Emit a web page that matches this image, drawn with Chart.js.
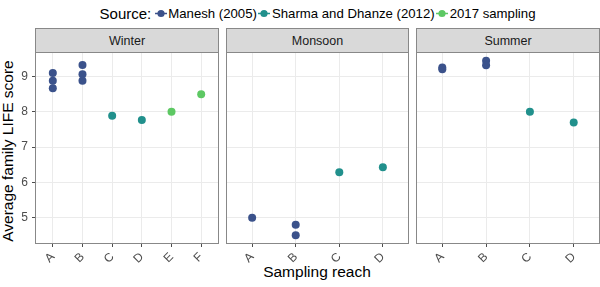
<!DOCTYPE html>
<html><head><meta charset="utf-8">
<script src="https://cdn.jsdelivr.net/npm/chart.js@4/dist/chart.umd.min.js"></script>
<style>
body{margin:0;width:600px;height:287px;background:#fff;font-family:"Liberation Sans",Arial,sans-serif;position:relative;overflow:hidden}
.strip{position:absolute;top:28px;height:25px;box-sizing:border-box;background:#D9D9D9;border:1px solid #888;font-size:12.5px;color:#1A1A1A;display:flex;align-items:center;justify-content:center}
canvas{position:absolute;top:52px}
.ytitle{position:absolute;left:8px;top:151px;transform:translate(-50%,-50%) rotate(-90deg);font-size:15.5px;white-space:nowrap;color:#000}
.xtitle{position:absolute;left:317px;top:272px;transform:translate(-50%,-50%);font-size:15.5px;white-space:nowrap;color:#000}
#legend{position:absolute;left:318px;top:13px;transform:translate(-50%,-50%);display:flex;align-items:center;white-space:nowrap}
#legend .ttl{font-size:15px;margin-right:3px}
#legend .item{display:flex;align-items:center;font-size:13.2px;margin-right:1px}
#legend svg{margin-right:1px}
</style></head>
<body>
<div id="legend"></div>
<div class="ytitle">Average family LIFE score</div>
<div class="xtitle">Sampling reach</div>
<script>
// ---- data ----
const seasons = ['Winter', 'Monsoon', 'Summer'];
const reachWinter = ['A', 'B', 'C', 'D', 'E', 'F'];
const reachMonsoon = ['A', 'B', 'C', 'D'];
const reachSummer = ['A', 'B', 'C', 'D'];
const sourceNames = ['Manesh (2005)', 'Sharma and Dhanze (2012)', '2017 sampling'];
const yTicks = [5, 6, 7, 8, 9];

// Winter
const maneshWinterReach = ['A', 'A', 'A', 'B', 'B', 'B'];
const maneshWinterScore = [9.10, 8.88, 8.67, 9.33, 9.07, 8.88];
const sharmaWinterReach = ['C', 'D'];
const sharmaWinterScore = [7.89, 7.77];
const s2017WinterReach = ['E', 'F'];
const s2017WinterScore = [8.00, 8.50];
// Monsoon
const maneshMonsoonReach = ['A', 'B', 'B'];
const maneshMonsoonScore = [5.00, 4.80, 4.50];
const sharmaMonsoonReach = ['C', 'D'];
const sharmaMonsoonScore = [6.29, 6.43];
// Summer
const maneshSummerReach = ['A', 'A', 'B', 'B'];
const maneshSummerScore = [9.26, 9.21, 9.45, 9.32];
const sharmaSummerReach = ['C', 'D'];
const sharmaSummerScore = [8.00, 7.70];

// ---- styles ----
const sourceColors = ['#3B528B', '#21908C', '#5DC863'];

const panels = [
  {reach: reachWinter, series: [[maneshWinterReach, maneshWinterScore], [sharmaWinterReach, sharmaWinterScore], [s2017WinterReach, s2017WinterScore]]},
  {reach: reachMonsoon, series: [[maneshMonsoonReach, maneshMonsoonScore], [sharmaMonsoonReach, sharmaMonsoonScore], [[], []]]},
  {reach: reachSummer, series: [[maneshSummerReach, maneshSummerScore], [sharmaSummerReach, sharmaSummerScore], [[], []]]}
];
const layoutBoxes = [
  {left: 0, width: 219, yWidth: 35},
  {left: 226, width: 183, yWidth: 0},
  {left: 416, width: 184, yWidth: 0}
];

// y range like ggplot (5% expansion of data range)
const allScores = [].concat(maneshWinterScore, sharmaWinterScore, s2017WinterScore, maneshMonsoonScore, sharmaMonsoonScore, maneshSummerScore, sharmaSummerScore);
const dMin = Math.min(...allScores), dMax = Math.max(...allScores);
const yMin = dMin - 0.05 * (dMax - dMin), yMax = dMax + 0.05 * (dMax - dMin);

// legend
const legend = document.getElementById('legend');
legend.innerHTML = '<span class="ttl">Source:</span>' + sourceNames.map((n, i) =>
  '<span class="item"><svg width="13" height="10"><line x1="0.5" y1="5" x2="12.5" y2="5" stroke="' + sourceColors[i] + '" stroke-width="1.6"/><circle cx="6.5" cy="5" r="3.6" fill="' + sourceColors[i] + '"/></svg>' + n + '</span>').join('');

const panelBorder = {
  id: 'panelBorder',
  afterDraw(chart) {
    const {ctx, chartArea: a} = chart;
    ctx.save();
    ctx.strokeStyle = '#888';
    ctx.lineWidth = 1;
    ctx.strokeRect(a.left + 0.5, a.top + 0.5, a.right - a.left - 1, a.bottom - a.top - 1);
    ctx.restore();
  }
};

panels.forEach((p, k) => {
  const box = layoutBoxes[k];
  const strip = document.createElement('div');
  strip.className = 'strip';
  strip.style.left = (box.left + box.yWidth) + 'px';
  strip.style.width = (box.width - box.yWidth) + 'px';
  strip.textContent = seasons[k];
  document.body.appendChild(strip);

  const cv = document.createElement('canvas');
  cv.width = box.width; cv.height = 235;
  cv.style.left = box.left + 'px';
  document.body.appendChild(cv);

  const datasets = p.series.map((s, i) => ({
    label: sourceNames[i],
    data: s[0].map((r, j) => ({x: p.reach.indexOf(r), y: s[1][j]})),
    backgroundColor: sourceColors[i],
    borderWidth: 0,
    pointRadius: 4,
    pointHoverRadius: 4
  }));

  new Chart(cv, {
    type: 'scatter',
    data: {datasets},
    plugins: [panelBorder],
    options: {
      responsive: false,
      animation: false,
      events: [],
      layout: {padding: 0, autoPadding: false},
      plugins: {legend: {display: false}, tooltip: {enabled: false}},
      scales: {
        x: {
          type: 'linear',
          min: -0.6,
          max: p.reach.length - 0.4,
          afterBuildTicks: s => { s.ticks = p.reach.map((_, i) => ({value: i})); },
          afterFit: s => { s.height = 43; s.paddingLeft = 0; s.paddingRight = 0; },
          border: {display: false},
          grid: {color: '#EBEBEB', lineWidth: 1, tickColor: '#4D4D4D', tickLength: 3, drawTicks: true},
          ticks: {
            autoSkip: false, minRotation: 45, maxRotation: 45, padding: 3,
            color: '#4D4D4D', font: {family: 'Liberation Sans', size: 12},
            callback: v => p.reach[Math.round(v)]
          }
        },
        y: {
          type: 'linear',
          min: yMin,
          max: yMax,
          afterBuildTicks: s => { s.ticks = yTicks.map(v => ({value: v})); },
          afterFit: s => { s.width = box.yWidth; s.paddingTop = 0; s.paddingBottom = 0; },
          border: {display: false},
          grid: {color: '#EBEBEB', lineWidth: 1, tickColor: '#4D4D4D', tickLength: 3, drawTicks: k === 0},
          ticks: {
            display: k === 0, padding: 4,
            color: '#4D4D4D', font: {family: 'Liberation Sans', size: 12},
            callback: v => String(v)
          }
        }
      }
    }
  });
});
</script>
</body></html>
